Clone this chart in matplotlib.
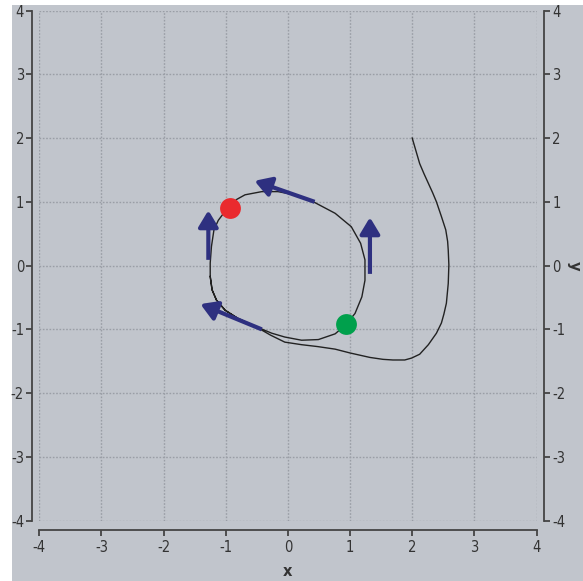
import matplotlib
matplotlib.use("Agg")
import matplotlib.pyplot as plt
from matplotlib.patches import Rectangle

# trajectory (x, y)
traj_x = [2.00, 2.06, 2.12, 2.19, 2.26, 2.33, 2.39, 2.47, 2.54, 2.57, 2.58, 2.59, 2.58, 2.55,
          2.51, 2.47, 2.39, 2.26, 2.12, 1.99, 1.88, 1.69, 1.53, 1.32, 1.00, 0.76, 0.48, 0.22,
          -0.05, -0.28,
          -0.53, -0.80, -1.01, -1.15, -1.22, -1.25, -1.25, -1.23, -1.19, -1.12, -0.95, -0.82,
          -0.69, -0.42, -0.16, 0.11, 0.43, 0.76, 1.02, 1.17, 1.24, 1.24, 1.19, 1.08, 0.93,
          0.76, 0.49, 0.22, -0.05, -0.26, -0.53, -0.80, -1.01, -1.15, -1.22, -1.25]
traj_y = [2.00, 1.80, 1.60, 1.44, 1.29, 1.14, 1.00, 0.77, 0.56, 0.38, 0.24, 0.01, -0.28, -0.59,
          -0.76, -0.90, -1.06, -1.24, -1.39, -1.45, -1.48, -1.48, -1.47, -1.44, -1.37, -1.31,
          -1.27, -1.24, -1.20, -1.09,
          -0.95, -0.83, -0.70, -0.54, -0.38, -0.17, 0.04, 0.30, 0.56, 0.71, 0.93, 1.04,
          1.11, 1.16, 1.16, 1.11, 0.99, 0.82, 0.61, 0.35, 0.09, -0.23, -0.49, -0.75, -0.93,
          -1.07, -1.16, -1.17, -1.12, -1.06, -0.95, -0.83, -0.70, -0.54, -0.38, -0.17]

# arrows: tails and tips
arrow_tail_x = [-1.28, 0.43, 1.32, -0.42]
arrow_tail_y = [0.09, 1.00, -0.13, -1.00]
arrow_tip_x = [-1.28, -0.57, 1.32, -1.44]
arrow_tip_y = [0.90, 1.34, 0.79, -0.59]

# dots
red_pt = (-0.93, 0.91)
green_pt = (0.93, -0.92)

ticks = [-4, -3, -2, -1, 0, 1, 2, 3, 4]
tick_labels = ["-4", "-3", "-2", "-1", "0", "1", "2", "3", "4"]

bg = "#c1c5cc"
spine_c = "#444444"
navy = "#2e3080"
fam = ["Liberation Sans Narrow", "DejaVu Sans"]

fig = plt.figure(figsize=(5.83, 5.81), dpi=100)
fig.patch.set_facecolor("white")
fig.patches.append(Rectangle((12 / 583, 0), 1 - 12 / 583, 1 - 5 / 581,
                             transform=fig.transFigure, facecolor=bg,
                             edgecolor="none", zorder=-10))

ax = fig.add_axes([39.3 / 583, (581 - 520.7) / 581, 497.2 / 583, 510.2 / 581])
ax.set_facecolor(bg)
ax.set_xlim(-4, 4)
ax.set_ylim(-4, 4)

ax.grid(True, color="#9a9ea6", linestyle=(0, (1.2, 1.2)), linewidth=1.0)
ax.set_axisbelow(True)

ax.spines["top"].set_visible(False)
ax.spines["left"].set_position(("outward", 5))
ax.spines["bottom"].set_position(("outward", 6.7))
ax.spines["right"].set_position(("outward", 5.4))
for s in ["left", "bottom", "right"]:
    ax.spines[s].set_color(spine_c)
    ax.spines[s].set_linewidth(1.3)

ax.set_xticks(ticks)
ax.set_xticklabels(tick_labels)
ax.set_yticks(ticks)
ax.set_yticklabels(tick_labels)
ax.tick_params(axis="both", direction="out", length=4.5, width=1.3, color=spine_c,
               labelcolor="#333333", labelsize=10.5, pad=1.5)
ax.tick_params(axis="x", pad=2.5)
ax.tick_params(axis="y", left=True, right=True, labelleft=True, labelright=True)
for lab in ax.get_xticklabels() + ax.get_yticklabels():
    lab.set_family(fam)
    lab.set_fontstretch("condensed")

ax.set_xlabel("x", fontsize=10.5, fontweight="bold", color="#333333", labelpad=7, family=fam)
ax.yaxis.set_label_position("right")
ax.set_ylabel("y", fontsize=10.5, fontweight="bold", color="#333333", rotation=-90,
              labelpad=11.5, family=fam)

ax.plot(traj_x, traj_y, color="#222222", linewidth=1.0, zorder=3,
        solid_joinstyle="round")

for tx, ty, hx, hy in zip(arrow_tail_x, arrow_tail_y, arrow_tip_x, arrow_tip_y):
    ax.annotate("", xy=(hx, hy), xytext=(tx, ty),
                arrowprops=dict(arrowstyle="-|>,head_length=1.0,head_width=0.6",
                                lw=3, color=navy, shrinkA=0, shrinkB=1.5,
                                joinstyle="round", capstyle="butt"),
                zorder=4)

ax.plot([red_pt[0]], [red_pt[1]], "o", markersize=15, color="#ea2a2e",
        markeredgewidth=0, zorder=5)
ax.plot([green_pt[0]], [green_pt[1]], "o", markersize=15, color="#00a04c",
        markeredgewidth=0, zorder=5)

fig.savefig("out.png", dpi=100, facecolor=fig.get_facecolor())
